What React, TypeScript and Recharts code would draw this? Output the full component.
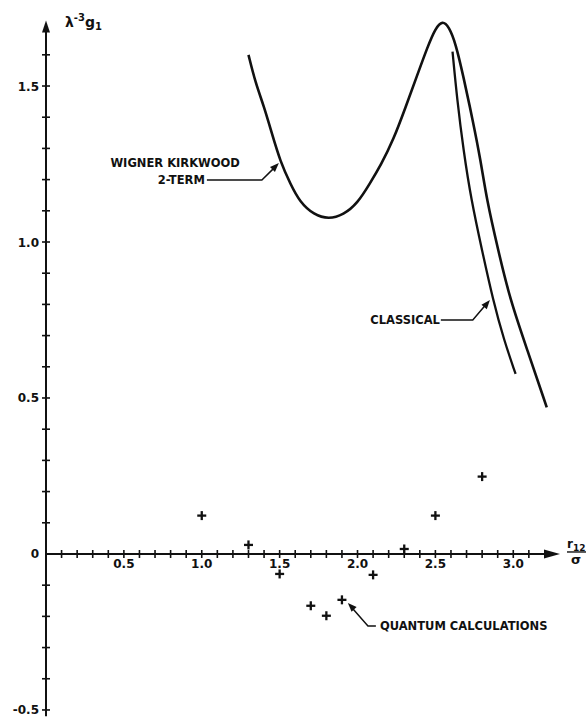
import { ComposedChart, XAxis, YAxis, Line, Scatter, ReferenceLine } from 'recharts';

// Wigner–Kirkwood 2-term curve
const wignerKirkwood = [
  { x: 1.3, y: 1.6 }, { x: 1.345, y: 1.51 }, { x: 1.4, y: 1.434 }, { x: 1.45, y: 1.348 },
  { x: 1.505, y: 1.257 }, { x: 1.57, y: 1.185 }, { x: 1.63, y: 1.128 }, { x: 1.72, y: 1.087 },
  { x: 1.815, y: 1.073 }, { x: 1.91, y: 1.087 }, { x: 2.0, y: 1.124 }, { x: 2.08, y: 1.188 },
  { x: 2.15, y: 1.247 }, { x: 2.23, y: 1.327 }, { x: 2.31, y: 1.434 }, { x: 2.38, y: 1.53 },
  { x: 2.45, y: 1.626 }, { x: 2.5, y: 1.685 }, { x: 2.545, y: 1.71 }, { x: 2.587, y: 1.69 },
  { x: 2.63, y: 1.637 }, { x: 2.68, y: 1.53 }, { x: 2.74, y: 1.39 }, { x: 2.79, y: 1.263 },
  { x: 2.83, y: 1.135 }, { x: 2.9, y: 0.98 }, { x: 2.98, y: 0.814 }, { x: 3.09, y: 0.654 },
  { x: 3.215, y: 0.47 },
];

const classical = [
  { x: 2.61, y: 1.61 }, { x: 2.64, y: 1.455 }, { x: 2.68, y: 1.295 }, { x: 2.73, y: 1.135 },
  { x: 2.8, y: 0.972 }, { x: 2.87, y: 0.814 }, { x: 2.94, y: 0.686 }, { x: 3.015, y: 0.577 },
];

const quantum = [
  { x: 1.0, y: 0.123 }, { x: 1.3, y: 0.029 }, { x: 1.5, y: -0.064 }, { x: 1.7, y: -0.166 },
  { x: 1.8, y: -0.198 }, { x: 1.9, y: -0.147 }, { x: 2.1, y: -0.067 }, { x: 2.3, y: 0.016 },
  { x: 2.5, y: 0.123 }, { x: 2.8, y: 0.248 },
];

const xMinorTicks = [
  0.1, 0.2, 0.3, 0.4, 0.5, 0.6, 0.7, 0.8, 0.9, 1.0, 1.1, 1.2, 1.3, 1.4, 1.5, 1.6,
  1.7, 1.8, 1.9, 2.0, 2.1, 2.2, 2.3, 2.4, 2.5, 2.6, 2.7, 2.8, 2.9, 3.0, 3.1,
];
const yMinorTicks = [
  -0.5, -0.4, -0.3, -0.2, -0.1, 0.1, 0.2, 0.3, 0.4, 0.5, 0.6, 0.7, 0.8, 0.9, 1.0,
  1.1, 1.2, 1.3, 1.4, 1.5, 1.6,
];
const xTickLabels = ['0.5', '1.0', '1.5', '2.0', '2.5', '3.0'];
const yTickLabels = ['-0.5', '0', '0.5', '1.0', '1.5'];

const INK = '#111';
const FONT = '"DejaVu Sans", "Liberation Sans", Arial, sans-serif';

function arrowHead(cx: number, cy: number, angle: number, len = 9, half = 3.5) {
  const a = (angle * Math.PI) / 180;
  const dx = Math.cos(a), dy = Math.sin(a);
  const bx = cx - dx * len, by = cy - dy * len;
  const pts = [
    [cx, cy],
    [bx - dy * half, by + dx * half],
    [bx + dy * half, by - dx * half],
  ];
  return <polygon points={pts.map((p) => p.join(',')).join(' ')} fill={INK} />;
}

const textStyle = { fontFamily: FONT, fontWeight: 700, fontSize: 11.5, fill: INK } as const;

export default function App() {
  const leaders = [
    [{ x: 1.033, y: 1.199 }, { x: 1.386, y: 1.199 }, { x: 1.47, y: 1.24 }],
    [{ x: 2.535, y: 0.75 }, { x: 2.74, y: 0.75 }, { x: 2.83, y: 0.803 }],
    [{ x: 1.96, y: -0.17 }, { x: 2.067, y: -0.231 }, { x: 2.118, y: -0.231 }],
  ];
  const tips = [
    { x: 1.495, y: 1.253, angle: -45 },
    { x: 2.85, y: 0.814, angle: -50 },
    { x: 1.938, y: -0.157, angle: -134 },
  ];
  const notes = [
    { x: 1.245, y: 1.253, text: 'WIGNER KIRKWOOD', anchor: 'end' },
    { x: 1.02, y: 1.199, text: '2-TERM', anchor: 'end' },
    { x: 2.529, y: 0.75, text: 'CLASSICAL', anchor: 'end' },
    { x: 2.144, y: -0.231, text: 'QUANTUM CALCULATIONS', anchor: 'start' },
  ];

  return (
    <div style={{ position: 'absolute', left: 0, top: 0, width: 587, height: 719, background: '#fff' }}>
      <ComposedChart width={587} height={719} margin={{ top: 20.5, right: 27, bottom: 2.8, left: 46 }}>
        <XAxis type="number" dataKey="x" domain={[0, 3.3]} hide />
        <YAxis type="number" dataKey="y" domain={[-0.52, 1.71]} hide />

        {/* axes drawn through the origin */}
        <ReferenceLine segment={[{ x: 0, y: 0 }, { x: 3.22, y: 0 }]} stroke={INK} strokeWidth={2} />
        <ReferenceLine segment={[{ x: 0, y: -0.52 }, { x: 0, y: 1.68 }]} stroke={INK} strokeWidth={2} />
        <Scatter
          data={[{ x: 3.3, y: 0 }]}
          isAnimationActive={false}
          shape={(p: any) => arrowHead(p.cx, p.cy, 0, 16, 4.5)}
        />
        <Scatter
          data={[{ x: 0, y: 1.71 }]}
          isAnimationActive={false}
          shape={(p: any) => arrowHead(p.cx, p.cy, -90, 12, 4)}
        />
        <Scatter
          data={xMinorTicks.map((v) => ({ x: v, y: 0 }))}
          isAnimationActive={false}
          shape={(p: any) => <line x1={p.cx} x2={p.cx} y1={p.cy - 4} y2={p.cy + 4} stroke={INK} strokeWidth={1.6} />}
        />
        <Scatter
          data={yMinorTicks.map((v) => ({ x: 0, y: v }))}
          isAnimationActive={false}
          shape={(p: any) => <line x1={p.cx - 4} x2={p.cx + 4} y1={p.cy} y2={p.cy} stroke={INK} strokeWidth={1.6} />}
        />
        <Scatter
          data={xTickLabels.map((t) => ({ x: Number(t), y: 0, t }))}
          isAnimationActive={false}
          shape={(p: any) => (
            <text x={p.cx} y={p.cy + 14} textAnchor="middle" style={{ ...textStyle, fontSize: 12 }}>{p.payload.t}</text>
          )}
        />
        <Scatter
          data={yTickLabels.map((t) => ({ x: 0, y: Number(t), t }))}
          isAnimationActive={false}
          shape={(p: any) => (
            <text x={p.cx - 7} y={p.cy + 4.5} textAnchor="end" style={{ ...textStyle, fontSize: 12 }}>{p.payload.t}</text>
          )}
        />

        {/* axis titles */}
        <Scatter
          data={[{ x: 0, y: 1.71 }]}
          isAnimationActive={false}
          shape={(p: any) => (
            <text x={p.cx + 19} y={p.cy + 6} style={{ ...textStyle, fontSize: 14 }}>
              λ<tspan dy={-6} fontSize={10}>-3</tspan>
              <tspan dy={6}>g</tspan>
              <tspan dy={3} fontSize={10}>1</tspan>
            </text>
          )}
        />
        <Scatter
          data={[{ x: 3.3, y: 0 }]}
          isAnimationActive={false}
          shape={(p: any) => (
            <g>
              <text x={p.cx + 7} y={p.cy - 6} style={{ ...textStyle, fontSize: 12 }}>
                r<tspan dy={3} fontSize={9}>12</tspan>
              </text>
              <line x1={p.cx + 7} x2={p.cx + 26} y1={p.cy - 2} y2={p.cy - 2} stroke={INK} strokeWidth={1.4} />
              <text x={p.cx + 11} y={p.cy + 10} style={{ ...textStyle, fontSize: 13 }}>σ</text>
            </g>
          )}
        />

        {/* curves */}
        <Line
          data={wignerKirkwood}
          dataKey="y"
          type="basis"
          stroke={INK}
          strokeWidth={2.6}
          dot={false}
          activeDot={false}
          isAnimationActive={false}
        />
        <Line
          data={classical}
          dataKey="y"
          type="basis"
          stroke={INK}
          strokeWidth={2.3}
          dot={false}
          activeDot={false}
          isAnimationActive={false}
        />
        <Scatter
          data={quantum}
          isAnimationActive={false}
          shape={(p: any) => (
            <g stroke={INK} strokeWidth={2.3}>
              <line x1={p.cx - 4.5} x2={p.cx + 4.5} y1={p.cy} y2={p.cy} />
              <line x1={p.cx} x2={p.cx} y1={p.cy - 4.5} y2={p.cy + 4.5} />
            </g>
          )}
        />

        {/* annotations */}
        {leaders.map((pts, i) => (
          <Line
            key={`leader-${i}`}
            data={pts}
            dataKey="y"
            type="linear"
            stroke={INK}
            strokeWidth={1.5}
            dot={false}
            activeDot={false}
            isAnimationActive={false}
          />
        ))}
        <Scatter
          data={tips}
          isAnimationActive={false}
          shape={(p: any) => arrowHead(p.cx, p.cy, p.payload.angle, 9, 3.5)}
        />
        <Scatter
          data={notes}
          isAnimationActive={false}
          shape={(p: any) => (
            <text x={p.cx} y={p.cy + 4} textAnchor={p.payload.anchor} style={textStyle}>{p.payload.text}</text>
          )}
        />
      </ComposedChart>
    </div>
  );
}
